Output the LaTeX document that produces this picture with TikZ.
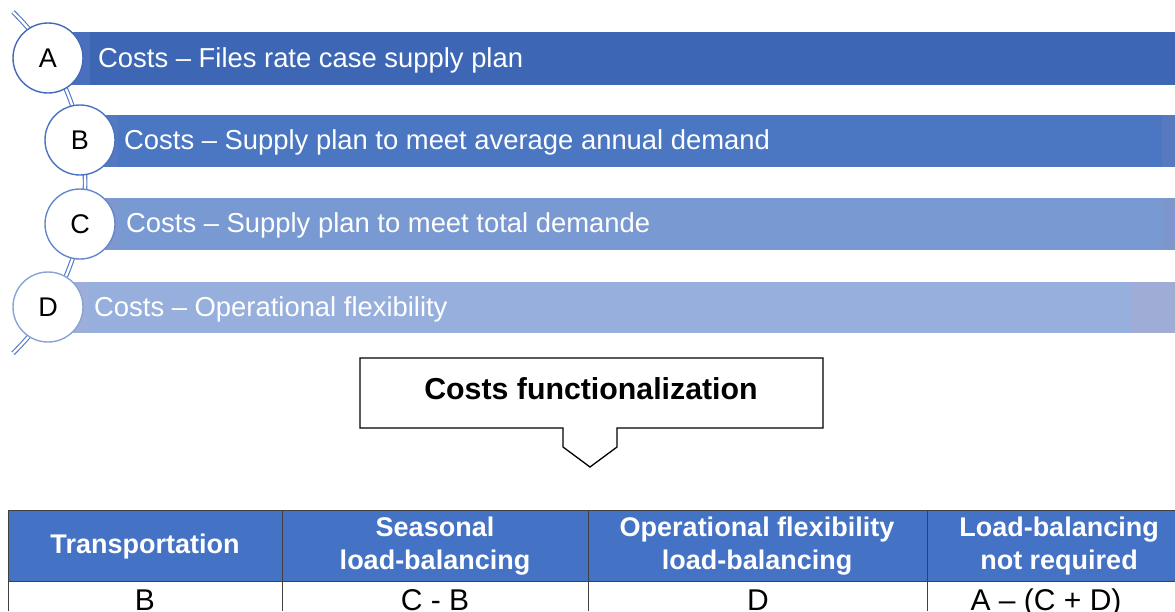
\documentclass[tikz,border=0pt]{standalone}
\usepackage{fontspec}
\setmainfont{Liberation Sans}
\definecolor{barA}{HTML}{3D66B5}
\definecolor{barAl}{HTML}{4A6FBC}
\definecolor{barB}{HTML}{4A76C2}
\definecolor{barBl}{HTML}{5579C0}
\definecolor{barBe}{HTML}{5679BF}
\definecolor{barC}{HTML}{7899D1}
\definecolor{barCl}{HTML}{7F97CE}
\definecolor{barCe}{HTML}{7E96CC}
\definecolor{barD}{HTML}{97AFDC}
\definecolor{barDl}{HTML}{9DAED8}
\definecolor{barDe}{HTML}{9FADD6}
\definecolor{ringA}{HTML}{4369BA}
\definecolor{ringB}{HTML}{4A73C2}
\definecolor{ringC}{HTML}{6388CB}
\definecolor{ringD}{HTML}{88A3D7}
\definecolor{chainc}{HTML}{4F78C6}
\definecolor{hdr}{HTML}{4472C4}
\definecolor{tblline}{HTML}{404040}
\begin{document}
\begin{tikzpicture}[x=1pt,y=-1pt,
  chain/.style={draw=chainc,line width=1.1pt,double=white,double distance=2.4pt},
  letter/.style={circle,fill=white,line width=1.4pt,minimum size=70pt,inner sep=0pt,
    font=\fontsize{27}{32}\selectfont,text=black},
  bartext/.style={anchor=base west,inner sep=0pt,text=white,font=\fontsize{27.4}{32}\selectfont},
  hdrtext/.style={align=center,inner sep=0pt,text=white,font=\bfseries\fontsize{27}{33}\selectfont},
  celltext/.style={anchor=base,inner sep=0pt,text=black,font=\fontsize{30}{36}\selectfont},
  tbl/.style={draw=tblline,line width=1pt}]
\useasboundingbox (0,0) rectangle (1175,611);

% bars
\fill[barA] (72,32) rectangle (1175,85);
\fill[barAl] (72,32) rectangle (90,85);
\fill[barB] (100,115) rectangle (1175,167);
\fill[barBl] (100,115) rectangle (118,167);
\fill[barBe] (1162,115) rectangle (1175,167);
\fill[barC] (100,198) rectangle (1175,250);
\fill[barCl] (100,198) rectangle (118,250);
\fill[barCe] (1163,198) rectangle (1175,250);
\fill[barD] (70,282) rectangle (1175,333);
\fill[barDl] (70,282) rectangle (88,333);
\fill[barDe] (1131,282) rectangle (1175,333);

% chain
\coordinate (chaintop) at (13,12);
\draw[chain] (chaintop) arc[start angle=-45.8,end angle=45.8,radius=238];

% circles
\node[letter,draw=ringA] (cA) at (48,58) {A};
\node[letter,draw=ringB] (cB) at (80,140) {B};
\node[letter,draw=ringC] (cC) at (80,224) {C};
\node[letter,draw=ringD] (cD) at (48,307) {D};

% bar texts
\node[bartext] (tA) at (98,67) {Costs – Files rate case supply plan};
\node[bartext] (tB) at (124,149) {Costs – Supply plan to meet average annual demand};
\node[bartext] (tC) at (126,232.5) {Costs – Supply plan to meet total demande};
\node[bartext] (tD) at (94,316) {Costs – Operational flexibility};

% callout
\draw[line width=1.3pt,fill=white] (360,358) -- (823,358) -- (823,428) -- (617,428)
  -- (617,447) -- (590,467) -- (563,447) -- (563,428) -- (360,428) -- cycle;
\node[inner sep=0pt,font=\bfseries\fontsize{30.3}{35}\selectfont] (cf) at (591,389) {Costs functionalization};

% table
\fill[hdr] (8,510) rectangle (1175,581);
\draw[tbl] (8,611) -- (8,510) -- (1175,510);
\draw[tbl] (8,581) -- (1175,581);
\draw[tbl] (282,510) -- (282,611);
\draw[tbl] (588,510) -- (588,611);
\draw[tbl] (927,510) -- (927,611);

\node[hdrtext] (h1) at (145,546.5) {Transportation};
\node[hdrtext] (h2) at (435,546.5) {Seasonal\\load-balancing};
\node[hdrtext] (h3) at (757,546.5) {Operational flexibility\\load-balancing};
\node[hdrtext] (h4) at (1059,546.5) {Load-balancing\\not required};

\node[celltext] (b1) at (145,610) {B};
\node[celltext] (b2) at (435,610) {C - B};
\node[celltext] (b3) at (758,610) {D};
\node[celltext] (b4) at (1046,610) {A – (C + D)};
\end{tikzpicture}
\end{document}
